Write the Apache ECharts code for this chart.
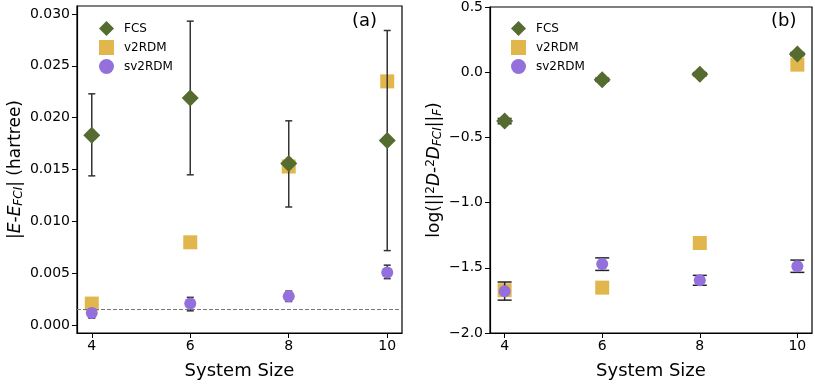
<html>
<head>
<meta charset="utf-8">
<title>FCS / v2RDM / sv2RDM</title>
<script src="https://cdn.jsdelivr.net/npm/echarts@6/dist/echarts.min.js"></script>
<style>
  body { margin: 0; background: #fff; }
  #main { width: 815px; height: 385px; }
</style>
</head>
<body>
<div id="main"></div>
<script>
// system sizes (x)
var sizes = [4, 6, 8, 10];
var xTicks = [4, 6, 8, 10];

// panel (a): |E - E_FCI| in hartree
var fcsE = [0.0183, 0.0219, 0.0156, 0.0178];
var fcsELow = [0.0144, 0.0145, 0.0114, 0.0072];
var fcsEHigh = [0.0223, 0.0293, 0.0197, 0.0284];
var v2rdmE = [0.0021, 0.0080, 0.0153, 0.0235];
var sv2rdmE = [0.0012, 0.0021, 0.0028, 0.0051];
var sv2rdmELow = [0.0007, 0.0014, 0.0023, 0.0045];
var sv2rdmEHigh = [0.0016, 0.0027, 0.0033, 0.0058];
var refLineE = 0.0016;
var yTicksA = [0, 0.005, 0.010, 0.015, 0.020, 0.025, 0.030];

// panel (b): log(||2D - 2D_FCI||_F)
var fcsD = [-0.375, -0.058, -0.015, 0.139];
var fcsDLow = [-0.395, -0.070, -0.027, 0.127];
var fcsDHigh = [-0.355, -0.046, -0.003, 0.151];
var v2rdmD = [-1.672, -1.652, -1.310, 0.058];
var sv2rdmD = [-1.680, -1.470, -1.596, -1.489];
var sv2rdmDLow = [-1.748, -1.520, -1.634, -1.535];
var sv2rdmDHigh = [-1.609, -1.424, -1.558, -1.441];
var yTicksB = [-2.0, -1.5, -1.0, -0.5, 0.0, 0.5];

var FONT = 'DejaVu Sans';
var cFCS = '#556B2F', cV2 = '#E1B74D', cSV2 = '#9370DB';

function pts(ys) { return sizes.map(function (x, i) { return [x, ys[i]]; }); }
function bars(lo, hi) { return sizes.map(function (x, i) { return [x, lo[i], hi[i]]; }); }

// error bar drawn with the axis scales
function errorBar(capHalf, color) {
  return function (params, api) {
    var x = api.value(0);
    var a = api.coord([x, api.value(1)]);
    var b = api.coord([x, api.value(2)]);
    var st = { stroke: color, lineWidth: 1.5 };
    return {
      type: 'group',
      children: [
        { type: 'line', shape: { x1: a[0], y1: a[1], x2: b[0], y2: b[1] }, style: st },
        { type: 'line', shape: { x1: a[0] - capHalf, y1: a[1], x2: a[0] + capHalf, y2: a[1] }, style: st },
        { type: 'line', shape: { x1: b[0] - capHalf, y1: b[1], x2: b[0] + capHalf, y2: b[1] }, style: st }
      ]
    };
  };
}

function xAx(gi) {
  return {
    type: 'value', gridIndex: gi, min: 3.7, max: 10.3,
    name: 'System Size', nameLocation: 'middle', nameGap: 29,
    nameTextStyle: { fontFamily: FONT, fontSize: 18, color: '#000' },
    axisLine: { onZero: false, lineStyle: { color: '#000', width: 1.2 } },
    axisTick: { inside: false, length: 5, lineStyle: { color: '#000' }, customValues: xTicks },
    axisLabel: { fontFamily: FONT, fontSize: 14, color: '#000', margin: 6, customValues: xTicks },
    splitLine: { show: false }
  };
}

function legendAt(left) {
  return {
    orient: 'vertical', left: left, top: 16, itemWidth: 15, itemHeight: 15, itemGap: 4,
    textStyle: { fontFamily: FONT, fontSize: 12, color: '#000', padding: [0, 0, 0, 5] },
    data: ['FCS', 'v2RDM', 'sv2RDM']
  };
}

var myChart = echarts.init(document.getElementById('main'));
var option = {
  animation: false,
  backgroundColor: '#fff',
  grid: [
    { left: 77, top: 6, width: 325, height: 330, show: true, borderColor: '#000', borderWidth: 1.2 },
    { left: 490, top: 6, width: 322, height: 330, show: true, borderColor: '#000', borderWidth: 1.2 }
  ],
  xAxis: [xAx(0), xAx(1)],
  yAxis: [
    {
      type: 'value', gridIndex: 0, min: -0.000735, max: 0.03076,
      name: '|{i|E}-{i|E}{sub|FCI}| (hartree)', nameLocation: 'middle', nameGap: 52, nameRotate: 90,
      nameTextStyle: {
        fontFamily: FONT, fontSize: 17, color: '#000',
        rich: {
          i: { fontFamily: FONT, fontSize: 17, fontStyle: 'italic', color: '#000' },
          sub: { fontFamily: FONT, fontSize: 12, fontStyle: 'italic', color: '#000', verticalAlign: 'bottom', padding: [7, 0, 0, 0] }
        }
      },
      axisLine: { show: true, onZero: false, lineStyle: { color: '#000', width: 1.2 } },
      axisTick: { show: true, length: 5, lineStyle: { color: '#000' }, customValues: yTicksA },
      axisLabel: {
        fontFamily: FONT, fontSize: 14, color: '#000', margin: 7, customValues: yTicksA,
        formatter: function (v) { return v.toFixed(3); }
      },
      splitLine: { show: false }
    },
    {
      type: 'value', gridIndex: 1, min: -2.0, max: 0.5,
      name: 'log(||{sup|2}{i|D}-{sup|2}{i|D}{sub|FCI}||{sub|F})', nameLocation: 'middle', nameGap: 46, nameRotate: 90,
      nameTextStyle: {
        fontFamily: FONT, fontSize: 17, color: '#000',
        rich: {
          i: { fontFamily: FONT, fontSize: 17, fontStyle: 'italic', color: '#000' },
          sup: { fontFamily: FONT, fontSize: 12, color: '#000', verticalAlign: 'top', padding: [0, 0, 7, 0] },
          sub: { fontFamily: FONT, fontSize: 12, fontStyle: 'italic', color: '#000', verticalAlign: 'bottom', padding: [7, 0, 0, 0] }
        }
      },
      axisLine: { show: true, onZero: false, lineStyle: { color: '#000', width: 1.2 } },
      axisTick: { show: true, length: 5, lineStyle: { color: '#000' }, customValues: yTicksB },
      axisLabel: {
        fontFamily: FONT, fontSize: 14, color: '#000', margin: 7, customValues: yTicksB,
        formatter: function (v) { return v.toFixed(1).replace('-', '\u2212'); }
      },
      splitLine: { show: false }
    }
  ],
  legend: [legendAt(94), legendAt(506)],
  graphic: [
    { type: 'text', left: 352, top: 12, style: { text: '(a)', font: '18px "DejaVu Sans"', fill: '#000' } },
    { type: 'text', left: 771, top: 12, style: { text: '(b)', font: '18px "DejaVu Sans"', fill: '#000' } }
  ],
  series: [
    // panel (a)
    { name: 'v2RDM', type: 'scatter', xAxisIndex: 0, yAxisIndex: 0, symbol: 'rect', symbolSize: 14,
      itemStyle: { color: cV2, opacity: 1 }, z: 2, data: pts(v2rdmE),
      markLine: {
        silent: true, symbol: 'none', precision: 5, label: { show: false },
        lineStyle: { color: '#777', type: [4, 2], width: 1 },
        data: [{ yAxis: refLineE }]
      }
    },
    { type: 'custom', xAxisIndex: 0, yAxisIndex: 0, renderItem: errorBar(3.5, '#333'),
      encode: { x: 0, y: [1, 2] }, z: 3, data: bars(fcsELow, fcsEHigh) },
    { name: 'FCS', type: 'scatter', xAxisIndex: 0, yAxisIndex: 0, symbol: 'diamond', symbolSize: 17,
      itemStyle: { color: cFCS, opacity: 1 }, z: 4, data: pts(fcsE) },
    { type: 'custom', xAxisIndex: 0, yAxisIndex: 0, renderItem: errorBar(3.5, '#333'),
      encode: { x: 0, y: [1, 2] }, z: 5, data: bars(sv2rdmELow, sv2rdmEHigh) },
    { name: 'sv2RDM', type: 'scatter', xAxisIndex: 0, yAxisIndex: 0, symbol: 'circle', symbolSize: 12,
      itemStyle: { color: cSV2, opacity: 1 }, z: 6, data: pts(sv2rdmE) },

    // panel (b)
    { name: 'v2RDM', type: 'scatter', xAxisIndex: 1, yAxisIndex: 1, symbol: 'rect', symbolSize: 14,
      itemStyle: { color: cV2, opacity: 1 }, z: 2, data: pts(v2rdmD) },
    { type: 'custom', xAxisIndex: 1, yAxisIndex: 1, renderItem: errorBar(7, '#222'),
      encode: { x: 0, y: [1, 2] }, z: 3, data: bars(fcsDLow, fcsDHigh) },
    { name: 'FCS', type: 'scatter', xAxisIndex: 1, yAxisIndex: 1, symbol: 'diamond', symbolSize: 17,
      itemStyle: { color: cFCS, opacity: 1 }, z: 4, data: pts(fcsD) },
    { type: 'custom', xAxisIndex: 1, yAxisIndex: 1, renderItem: errorBar(7, '#222'),
      encode: { x: 0, y: [1, 2] }, z: 5, data: bars(sv2rdmDLow, sv2rdmDHigh) },
    { name: 'sv2RDM', type: 'scatter', xAxisIndex: 1, yAxisIndex: 1, symbol: 'circle', symbolSize: 12,
      itemStyle: { color: cSV2, opacity: 1 }, z: 6, data: pts(sv2rdmD) }
  ]
};
myChart.setOption(option);
</script>
</body>
</html>
